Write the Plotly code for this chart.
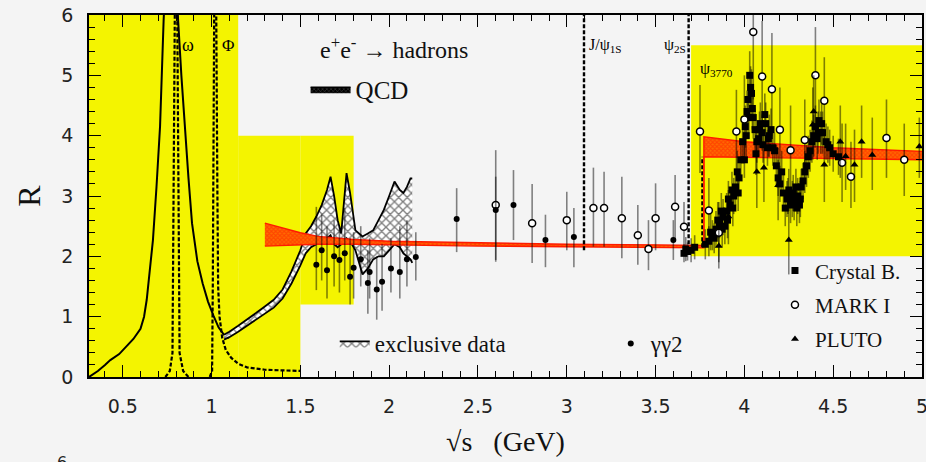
import plotly.graph_objects as go

# ---------------- data ----------------
# shaded (yellow) regions: x0, x1, y0, y1
yellow_x0 = [0.31, 1.15, 1.50, 3.70]
yellow_x1 = [1.15, 1.50, 1.80, 5.00]
yellow_y0 = [0.0, 0.0, 1.2, 2.0]
yellow_y1 = [6.0, 4.0, 4.0, 5.5]

# rho resonance curve (solid)
rho_x = [0.31, 0.36, 0.40, 0.43, 0.48, 0.52, 0.56, 0.60, 0.62, 0.635, 0.65, 0.67, 0.69, 0.71, 0.73, 0.75,
         0.77, 0.79, 0.81, 0.83, 0.85, 0.87, 0.89, 0.92, 0.95, 0.98, 1.01, 1.04, 1.07, 1.10]
rho_y = [0.0, 0.10, 0.20, 0.28, 0.38, 0.50, 0.63, 0.80, 1.00, 1.28, 1.70, 2.27, 3.15, 4.15, 5.90, 7.50,
         8.50, 8.00, 6.00, 5.00, 4.05, 3.30, 2.55, 1.92, 1.55, 1.25, 1.02, 0.82, 0.70, 0.65]

# omega and phi (dashed)
omega_x = [0.74, 0.765, 0.780, 0.786, 0.800, 0.814, 0.820, 0.840, 0.870]
omega_y = [0.0, 0.10, 0.40, 3.00, 9.00, 3.00, 0.40, 0.10, 0.0]
phi_x = [0.99, 1.003, 1.007, 1.020, 1.033, 1.037, 1.045, 1.06, 1.08, 1.11, 1.15, 1.20, 1.30, 1.40, 1.50]
phi_y = [0.0, 0.10, 1.50, 9.00, 3.00, 1.50, 1.00, 0.65, 0.45, 0.32, 0.22, 0.16, 0.12, 0.11, 0.10]

# exclusive data band
ex_x = [1.07, 1.10, 1.15, 1.20, 1.25, 1.30, 1.35, 1.40, 1.45, 1.50, 1.53, 1.56, 1.59, 1.62, 1.65, 1.67,
        1.69, 1.71, 1.73, 1.76, 1.78, 1.81, 1.85, 1.88, 1.91, 1.94, 1.97, 2.00, 2.03, 2.06, 2.08, 2.10, 2.12, 2.13]
ex_hi = [0.70, 0.75, 0.85, 0.95, 1.06, 1.17, 1.28, 1.45, 1.75, 2.10, 2.38, 2.50, 2.66, 2.85, 3.10, 3.32,
         3.00, 2.60, 2.38, 3.38, 3.05, 2.43, 2.33, 2.38, 2.43, 2.60, 2.77, 3.00, 3.24, 3.10, 3.05, 3.15, 3.29, 3.29]
ex_lo = [0.62, 0.66, 0.75, 0.85, 0.95, 1.05, 1.15, 1.30, 1.55, 1.85, 2.05, 2.15, 2.20, 2.25, 2.30, 2.35,
         2.20, 2.15, 2.20, 2.30, 2.25, 2.10, 1.70, 1.80, 1.95, 2.00, 2.00, 2.10, 2.20, 2.15, 2.05, 2.00, 1.95, 1.89]

# QCD prediction band
qcd_x = [1.30, 1.40, 1.50, 1.60, 1.80, 2.00, 2.50, 3.00, 3.50, 3.772, 3.772, 4.00, 4.50, 5.00]
qcd_lo = [2.17, 2.18, 2.19, 2.20, 2.20, 2.19, 2.17, 2.16, 2.15, 2.14, 3.65, 3.64, 3.62, 3.60]
qcd_hi = [2.55, 2.47, 2.39, 2.33, 2.28, 2.25, 2.22, 2.20, 2.19, 2.18, 3.98, 3.90, 3.80, 3.74]

# narrow resonances
res_mass = [3.097, 3.686]
res_low = [2.10, 2.20]
res_high = [6.0, 6.0]
psi3770_x = [3.762, 3.762]
psi3770_y = [2.15, 3.65]

# gamma gamma 2
gg_x = [1.59, 1.62, 1.65, 1.69, 1.72, 1.75, 1.78, 1.80, 1.84, 1.88, 1.89, 1.93, 1.96, 2.01, 2.06, 2.10, 2.15,
        2.38, 2.60, 2.70, 2.88, 3.04, 3.60]
gg_y = [1.86, 2.10, 1.77, 2.00, 1.94, 2.05, 1.66, 1.81, 1.95, 1.56, 1.74, 1.45, 1.58, 1.80, 1.74, 1.95, 1.99,
        2.62, 2.77, 2.85, 2.27, 2.32, 2.27]
gg_lo = [1.44, 1.60, 1.30, 1.50, 1.40, 1.60, 1.20, 1.30, 1.50, 1.05, 1.30, 0.95, 1.10, 1.40, 1.30, 1.50, 1.60,
         2.07, 1.94, 2.27, 1.82, 1.82, 1.94]
gg_hi = [2.82, 2.70, 2.50, 2.60, 2.50, 2.80, 2.30, 2.40, 2.50, 2.10, 2.30, 2.00, 2.20, 2.30, 2.50, 2.60, 2.40,
         3.13, 3.32, 3.43, 2.69, 2.80, 2.60]

# MARK I
mk_x = [2.60, 2.805, 3.00, 3.15, 3.21, 3.31, 3.40, 3.46, 3.50, 3.61, 3.66, 3.75, 3.80, 3.856, 3.955, 4.00,
        4.05, 4.10, 4.155, 4.20, 4.26, 4.34, 4.40, 4.45, 4.55, 4.60, 4.80, 4.90]
mk_y = [2.85, 2.55, 2.60, 2.80, 2.80, 2.63, 2.35, 2.12, 2.63, 2.82, 2.49, 4.07, 2.76, 2.39, 4.07, 4.27,
        5.72, 4.98, 4.77, 4.10, 3.76, 3.93, 5.00, 4.58, 3.55, 3.32, 3.96, 3.60]
mk_lo = [1.91, 1.89, 2.10, 2.16, 2.16, 1.97, 1.86, 1.77, 2.10, 2.27, 2.10, 3.38, 2.30, 1.90, 3.38, 3.60,
         4.60, 4.00, 4.00, 3.40, 3.10, 3.30, 4.20, 3.90, 2.90, 2.80, 3.30, 3.00]
mk_hi = [3.76, 3.20, 3.07, 3.47, 3.40, 3.32, 2.85, 2.60, 3.21, 3.35, 2.90, 4.84, 3.30, 2.90, 4.76, 5.00,
         6.20, 5.90, 5.70, 4.80, 4.50, 4.60, 5.80, 5.30, 4.20, 3.90, 4.60, 4.20]

# PLUTO
pl_x = [3.856, 3.91, 4.07, 4.11, 4.19, 4.25, 4.385, 4.39, 4.45, 4.54, 4.57, 4.62, 4.66, 4.72, 4.985]
pl_y = [2.17, 2.66, 3.40, 3.47, 3.18, 2.27, 4.18, 4.40, 3.52, 3.90, 3.66, 3.52, 3.90, 3.68, 3.82]
pl_lo = [1.80, 2.20, 2.80, 2.90, 2.60, 1.70, 3.60, 3.80, 2.90, 3.30, 3.10, 2.90, 3.30, 3.10, 3.30]
pl_hi = [2.60, 3.10, 4.00, 4.10, 3.80, 2.90, 4.80, 5.00, 4.10, 4.50, 4.20, 4.10, 4.50, 4.30, 4.30]

# Crystal Ball
cb_x = [3.66, 3.67, 3.68, 3.70, 3.72, 3.78, 3.80, 3.81, 3.82, 3.84, 3.85, 3.86, 3.87, 3.88, 3.89, 3.90, 3.91,
        3.92, 3.93, 3.94, 3.95, 3.96, 3.97, 3.98, 3.99, 4.00, 4.01, 4.02, 4.025, 4.03, 4.035, 4.04, 4.05, 4.06,
        4.07, 4.08, 4.09, 4.10, 4.12, 4.13, 4.14, 4.16, 4.18, 4.20, 4.21, 4.22, 4.24, 4.25, 4.26, 4.27, 4.28,
        4.29, 4.30, 4.31, 4.32, 4.34, 4.36, 4.38, 4.39, 4.40, 4.41, 4.42, 4.43, 4.44, 4.46, 4.48, 4.50, 4.53,
        3.83, 3.875, 3.905, 3.935, 3.965, 4.005, 4.015, 4.045, 4.065, 4.085, 4.105, 4.115, 4.135, 4.15, 4.17,
        4.19, 4.23, 4.245, 4.275, 4.295, 4.315, 4.33, 4.35, 4.37, 4.415, 4.435, 4.47]
cb_y = [2.05, 2.12, 2.08, 2.10, 2.15, 2.20, 2.25, 2.40, 2.35, 2.45, 2.60, 2.55, 2.75, 2.65, 2.50, 2.75, 2.95,
        2.85, 3.10, 3.00, 3.15, 3.40, 3.30, 3.60, 3.90, 3.60, 4.00, 4.60, 4.30, 5.00, 4.80, 4.70, 4.30, 4.10,
        3.90, 3.95, 4.20, 4.05, 4.20, 3.80, 4.00, 3.80, 3.50, 3.20, 3.40, 3.05, 2.95, 3.10, 2.85, 2.95, 2.90,
        3.15, 3.00, 2.85, 3.15, 3.40, 3.65, 3.90, 4.00, 4.15, 3.95, 4.25, 4.05, 4.05, 3.90, 3.80, 3.70, 3.65,
        2.30, 2.45, 2.60, 2.80, 3.05, 4.15, 4.40, 4.45, 3.70, 4.10, 3.85, 4.35, 3.95, 4.10, 3.75,
        3.30, 2.80, 3.00, 3.05, 2.80, 2.95, 3.25, 3.50, 3.75, 4.05, 4.20, 3.85]
cb_err = [0.15, 0.2, 0.15, 0.2, 0.2, 0.25, 0.25, 0.3, 0.25, 0.3, 0.3, 0.25, 0.3, 0.3, 0.3, 0.3, 0.3,
          0.3, 0.3, 0.3, 0.3, 0.35, 0.3, 0.35, 0.35, 0.3, 0.35, 0.4, 0.35, 0.4, 0.35, 0.4, 0.35, 0.35,
          0.35, 0.3, 0.35, 0.3, 0.35, 0.3, 0.35, 0.3, 0.35, 0.3, 0.35, 0.3, 0.3, 0.35, 0.3, 0.3, 0.3,
          0.3, 0.3, 0.3, 0.3, 0.35, 0.35, 0.35, 0.35, 0.35, 0.35, 0.35, 0.35, 0.35, 0.3, 0.3, 0.3, 0.3,
          0.25, 0.3, 0.3, 0.3, 0.3, 0.35, 0.35, 0.35, 0.35, 0.3, 0.3, 0.35, 0.3, 0.35, 0.3,
          0.3, 0.3, 0.3, 0.3, 0.3, 0.3, 0.3, 0.35, 0.35, 0.35, 0.35, 0.3]

x_range = [0.31, 5.0]
y_range = [0, 6]

# ---------------- figure ----------------
BG = "#f4f4f4"
YEL = "#f4f400"
SERIF = "Liberation Serif"
ERR = "rgba(0,0,0,0.48)"
DASH = "4px,2px"

fig = go.Figure()

for x0, x1, y0, y1 in zip(yellow_x0, yellow_x1, yellow_y0, yellow_y1):
    fig.add_shape(type="rect", xref="x", yref="y", x0=x0, x1=x1, y0=y0, y1=y1,
                  fillcolor=YEL, line_width=0, layer="below")

# resonance curves
fig.add_trace(go.Scatter(x=rho_x, y=rho_y, mode="lines", line=dict(color="black", width=2),
                         showlegend=False, hoverinfo="skip"))
fig.add_trace(go.Scatter(x=omega_x, y=omega_y, mode="lines",
                         line=dict(color="black", width=2.2, dash=DASH), showlegend=False))
fig.add_trace(go.Scatter(x=phi_x, y=phi_y, mode="lines",
                         line=dict(color="black", width=2.2, dash=DASH), showlegend=False))

# exclusive data band
fig.add_trace(go.Scatter(x=ex_x, y=ex_lo, mode="lines", line=dict(color="black", width=1.8),
                         showlegend=False))
fig.add_trace(go.Scatter(x=ex_x, y=ex_hi, mode="lines", line=dict(color="black", width=1.8),
                         fill="tonexty", fillcolor="white",
                         fillpattern=dict(shape="x", fgcolor="black", bgcolor="white", size=6, solidity=0.4),
                         name="exclusive data", legend="legend2"))

# QCD band
fig.add_trace(go.Scatter(x=qcd_x, y=qcd_lo, mode="lines", line=dict(color="#ff1a00", width=1.4),
                         showlegend=False))
fig.add_trace(go.Scatter(x=qcd_x, y=qcd_hi, mode="lines", line=dict(color="#ff1a00", width=1.4),
                         fill="tonexty", fillcolor="#ff2a00",
                         fillpattern=dict(shape="x", fgcolor="#ff2000", bgcolor="#ff6a00", size=3, solidity=0.6),
                         showlegend=False))
# legend swatch for QCD
fig.add_trace(go.Scatter(x=[None], y=[None], mode="lines", line=dict(color="black", width=1.5),
                         fill="toself", fillcolor="black",
                         fillpattern=dict(shape="x", fgcolor="#888", bgcolor="black", size=3, solidity=0.3),
                         name="QCD", legend="legend"))

# narrow resonance lines
for m, lo, hi in zip(res_mass, res_low, res_high):
    fig.add_trace(go.Scatter(x=[m, m], y=[lo, hi], mode="lines",
                             line=dict(color="black", width=2.4, dash=DASH), showlegend=False))
fig.add_trace(go.Scatter(x=psi3770_x, y=psi3770_y, mode="lines",
                         line=dict(color="black", width=1.8, dash=DASH), showlegend=False))


def err(y, lo, hi):
    return dict(type="data", symmetric=False, array=[h - v for v, h in zip(y, hi)],
                arrayminus=[v - l for v, l in zip(y, lo)], color=ERR, thickness=1.6, width=0)


fig.add_trace(go.Scatter(x=cb_x, y=cb_y, mode="markers",
                         error_y=dict(type="data", array=cb_err, color=ERR, thickness=1.6, width=0),
                         marker=dict(symbol="square", size=7, color="black"),
                         name="Crystal B.", legend="legend3", legendgroup="cb"))
fig.add_trace(go.Scatter(x=mk_x, y=mk_y, mode="markers", error_y=err(mk_y, mk_lo, mk_hi),
                         marker=dict(symbol="circle", size=7, color="white", line=dict(color="black", width=1.5)),
                         name="MARK I", legend="legend3", legendgroup="mk"))
fig.add_trace(go.Scatter(x=pl_x, y=pl_y, mode="markers", error_y=err(pl_y, pl_lo, pl_hi),
                         marker=dict(symbol="triangle-up", size=7, color="black"),
                         name="PLUTO", legend="legend3", legendgroup="pl"))
fig.add_trace(go.Scatter(x=gg_x, y=gg_y, mode="markers", error_y=err(gg_y, gg_lo, gg_hi),
                         marker=dict(symbol="circle", size=6, color="black"),
                         name="γγ2", legend="legend2"))

axis_common = dict(showline=True, linecolor="black", linewidth=1.5, mirror="allticks",
                   ticks="inside", ticklen=12, tickwidth=1.3, tickcolor="black",
                   showgrid=False, zeroline=False, automargin=False, ticklabeloverflow="allow",
                   tickfont=dict(family="DejaVu Sans", size=19, color="#222"))

fig.update_xaxes(range=x_range, tick0=0.5, dtick=0.5, ticklabelstandoff=11,
                 minor=dict(dtick=0.1, ticks="inside", ticklen=6, tickcolor="black", tickwidth=1.2, showgrid=False),
                 title=dict(text="√s   (GeV)", font=dict(family=SERIF, size=28, color="#111"), standoff=16),
                 **axis_common)
fig.update_yaxes(range=y_range, tick0=0, dtick=1, ticklabelstandoff=10,
                 minor=dict(dtick=0.2, ticks="inside", ticklen=6, tickcolor="black", tickwidth=1.2, showgrid=False),
                 title=dict(text="R", font=dict(family=SERIF, size=32, color="#111"), standoff=11),
                 **axis_common)

leg_font = dict(family=SERIF, size=21, color="#111")
fig.update_layout(
    width=926, height=462,
    margin=dict(l=89, r=4, t=15, b=85, autoexpand=False),
    paper_bgcolor=BG, plot_bgcolor=BG,
    legend=dict(x=0.26, y=0.858, xanchor="left", yanchor="top", bgcolor="rgba(0,0,0,0)",
                font=dict(family=SERIF, size=25, color="#111"), itemwidth=40),
    legend2=dict(x=0.295, y=0.152, xanchor="left", yanchor="top", orientation="h", bgcolor="rgba(0,0,0,0)",
                 font=dict(family=SERIF, size=23, color="#111"), entrywidth=231, traceorder="normal"),
    legend3=dict(x=0.8235, y=0.350, xanchor="left", yanchor="top", bgcolor="rgba(0,0,0,0)",
                 font=leg_font, tracegroupgap=4, traceorder="grouped"),
    annotations=[
        dict(text="e<sup>+</sup>e<sup>-</sup> → hadrons", xref="paper", yref="paper", x=0.275, y=0.909,
             xanchor="left", yanchor="middle", showarrow=False, font=dict(family=SERIF, size=24, color="#111")),
        dict(text="ω", x=0.87, y=5.5, xref="x", yref="y", showarrow=False,
             font=dict(family=SERIF, size=18, color="black")),
        dict(text="Φ", x=1.09, y=5.5, xref="x", yref="y", showarrow=False,
             font=dict(family=SERIF, size=17, color="black")),
        dict(text="J/ψ<sub>1S</sub>", x=res_mass[0], y=5.5, xref="x", yref="y", xanchor="left", xshift=3,
             showarrow=False, font=dict(family=SERIF, size=16, color="black")),
        dict(text="ψ<sub>2S</sub>", x=res_mass[1], y=5.5, xref="x", yref="y", xanchor="right", xshift=-1,
             showarrow=False, font=dict(family=SERIF, size=16, color="black")),
        dict(text="ψ<sub>3770</sub>", x=3.74, y=5.1, xref="x", yref="y", xanchor="left",
             showarrow=False, font=dict(family=SERIF, size=16, color="black")),
        dict(text="6", xref="paper", yref="paper", x=-0.032, y=-0.205, xanchor="center", yanchor="top",
             showarrow=False, font=dict(family="DejaVu Sans", size=16, color="#222")),
    ],
)

fig.write_html("out.html", config={"displayModeBar": False},
               post_script="document.body.style.margin='0';")
